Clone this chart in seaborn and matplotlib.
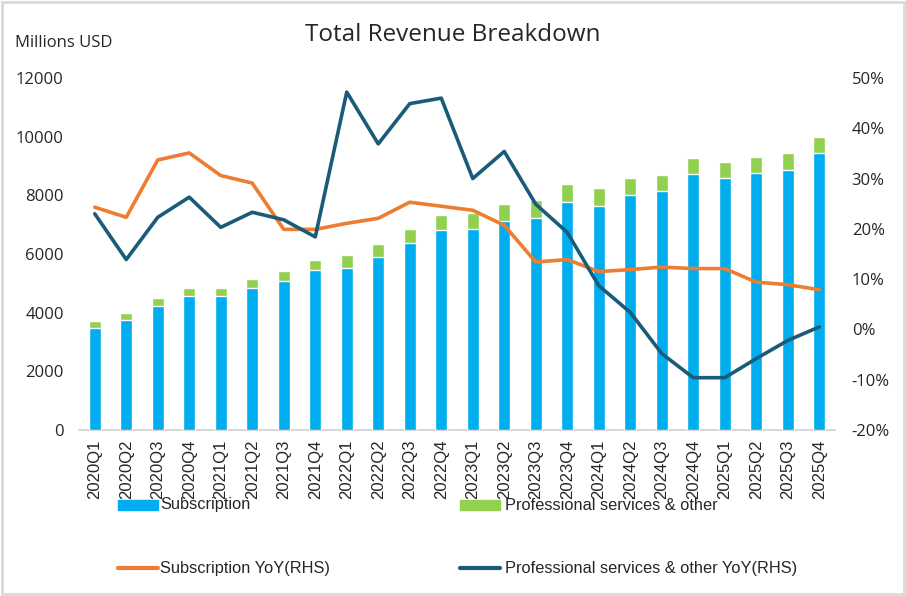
import numpy as np
import pandas as pd
import matplotlib
matplotlib.use("Agg")
import matplotlib.pyplot as plt
import seaborn as sns
from matplotlib.patches import Rectangle
from matplotlib.lines import Line2D
from matplotlib import font_manager

quarters = ["2020Q1","2020Q2","2020Q3","2020Q4","2021Q1","2021Q2","2021Q3","2021Q4",
            "2022Q1","2022Q2","2022Q3","2022Q4","2023Q1","2023Q2","2023Q3","2023Q4",
            "2024Q1","2024Q2","2024Q3","2024Q4","2025Q1","2025Q2","2025Q3","2025Q4"]
subscription = [3490, 3760, 4230, 4570, 4570, 4840, 5080, 5460,
                5520, 5900, 6380, 6820, 6860, 7130, 7230, 7780,
                7640, 8010, 8150, 8730, 8590, 8760, 8870, 9450]
total = [3720, 3990, 4500, 4840, 4840, 5150, 5420, 5800,
         5970, 6340, 6850, 7330, 7400, 7710, 7840, 8390,
         8250, 8590, 8700, 9280, 9140, 9310, 9450, 9990]
sub_yoy = [24.3, 22.3, 33.7, 35.1, 30.6, 29.1, 19.9, 19.9,
           21.1, 22.1, 25.3, 24.5, 23.7, 20.7, 13.4, 13.9,
           11.5, 11.9, 12.4, 12.1, 12.1, 9.4, 8.9, 7.9]
prof_yoy = [23.0, 13.9, 22.3, 26.3, 20.3, 23.3, 21.8, 18.4,
            47.2, 36.9, 44.9, 46.0, 30.0, 35.4, 24.9, 19.3,
            8.7, 3.4, -4.8, -9.6, -9.6, -5.8, -2.2, 0.5]

df = pd.DataFrame({"quarter": quarters, "subscription": subscription,
                   "total": total, "sub_yoy": sub_yoy, "prof_yoy": prof_yoy})

sns.set_style("white")
plt.rcParams["font.family"] = ["Liberation Sans", "DejaVu Sans"]

names = {f.name for f in font_manager.fontManager.ttflist}
narrow = "Liberation Sans Narrow" if "Liberation Sans Narrow" in names else "Liberation Sans"

C_SUB = "#00AEEF"
C_PROF = "#92D050"
C_SUBY = "#ED7D31"
C_PROFY = "#1A5B7A"

fig = plt.figure(figsize=(9.06, 5.96), dpi=100)
ax = fig.add_axes([79/906, 1-430/596, (835-79)/906, (430-78)/596])

sns.barplot(data=df, x="quarter", y="total", color=C_PROF, width=0.38,
            saturation=1, ax=ax, zorder=2)
sns.barplot(data=df, x="quarter", y="subscription", color=C_SUB, width=0.38,
            saturation=1, ax=ax, zorder=3)
ax.set_ylim(0, 12000)
ax.set_yticks(np.arange(0, 12001, 2000))
ax.set_xlim(-0.5, len(quarters) - 0.5)
ax.set_xlabel("")
ax.set_ylabel("")
ax.tick_params(axis="x", rotation=90, labelsize=12, length=0, pad=7)
ax.tick_params(axis="y", labelsize=12, length=0, pad=11)
for lab in ax.get_yticklabels():
    lab.set_family(["Open Sans", "DejaVu Sans"])
for s in ["top", "left", "right"]:
    ax.spines[s].set_visible(False)
ax.spines["bottom"].set_color("#D0D0D0")
ax.spines["bottom"].set_linewidth(1.2)
ax.grid(False)

ax2 = ax.twinx()
sns.lineplot(data=df, x="quarter", y="sub_yoy", color=C_SUBY, linewidth=2.6,
             ax=ax2, sort=False)
sns.lineplot(data=df, x="quarter", y="prof_yoy", color=C_PROFY, linewidth=2.6,
             ax=ax2, sort=False)
ax2.set_ylim(-20, 50)
ax2.set_yticks(np.arange(-20, 51, 10))
ax2.set_yticklabels([f"{v}%" for v in range(-20, 51, 10)],
                    family=["Open Sans", "DejaVu Sans"])
ax2.set_ylabel("")
ax2.set_xlabel("")
ax2.tick_params(axis="y", labelsize=12, length=0, pad=12)
for s in ["top", "left", "right", "bottom"]:
    ax2.spines[s].set_visible(False)
ax2.grid(False)

fig.text(453/906, 1-35/596, "Total Revenue Breakdown", ha="center", va="center",
         fontsize=17.5, family=["Open Sans", "DejaVu Sans"])
fig.text(15/906, 1-43/596, "Millions USD", ha="left", va="center", fontsize=12,
         family=["Open Sans", "DejaVu Sans"])

leg_font = {"family": [narrow, "DejaVu Sans"], "size": 11.8}
fig.text(160/906, 1-505/596, "Subscription", va="center", fontdict=leg_font)
fig.text(505/906, 1-505/596, "Professional services & other", va="center", fontdict=leg_font)
fig.text(160/906, 1-568/596, "Subscription YoY(RHS)", va="center", fontdict=leg_font)
fig.text(505/906, 1-568/596, "Professional services & other YoY(RHS)", va="center", fontdict=leg_font)
fig.patches.append(Rectangle((118/906, 1-510/596), 40/906, 10/596, color=C_SUB,
                             transform=fig.transFigure, figure=fig))
fig.patches.append(Rectangle((460/906, 1-510/596), 40/906, 10/596, color=C_PROF,
                             transform=fig.transFigure, figure=fig))
fig.lines.append(Line2D([118/906, 158/906], [1-568/596, 1-568/596], color=C_SUBY, lw=3,
                        transform=fig.transFigure, figure=fig))
fig.lines.append(Line2D([460/906, 500/906], [1-568/596, 1-568/596], color=C_PROFY, lw=3,
                        transform=fig.transFigure, figure=fig))

fig.patches.append(Rectangle((0.002, 0.003), 0.996, 0.994, fill=False, edgecolor="#D9D9D9",
                             lw=2, transform=fig.transFigure, figure=fig))

fig.savefig("out.png", dpi=100)
